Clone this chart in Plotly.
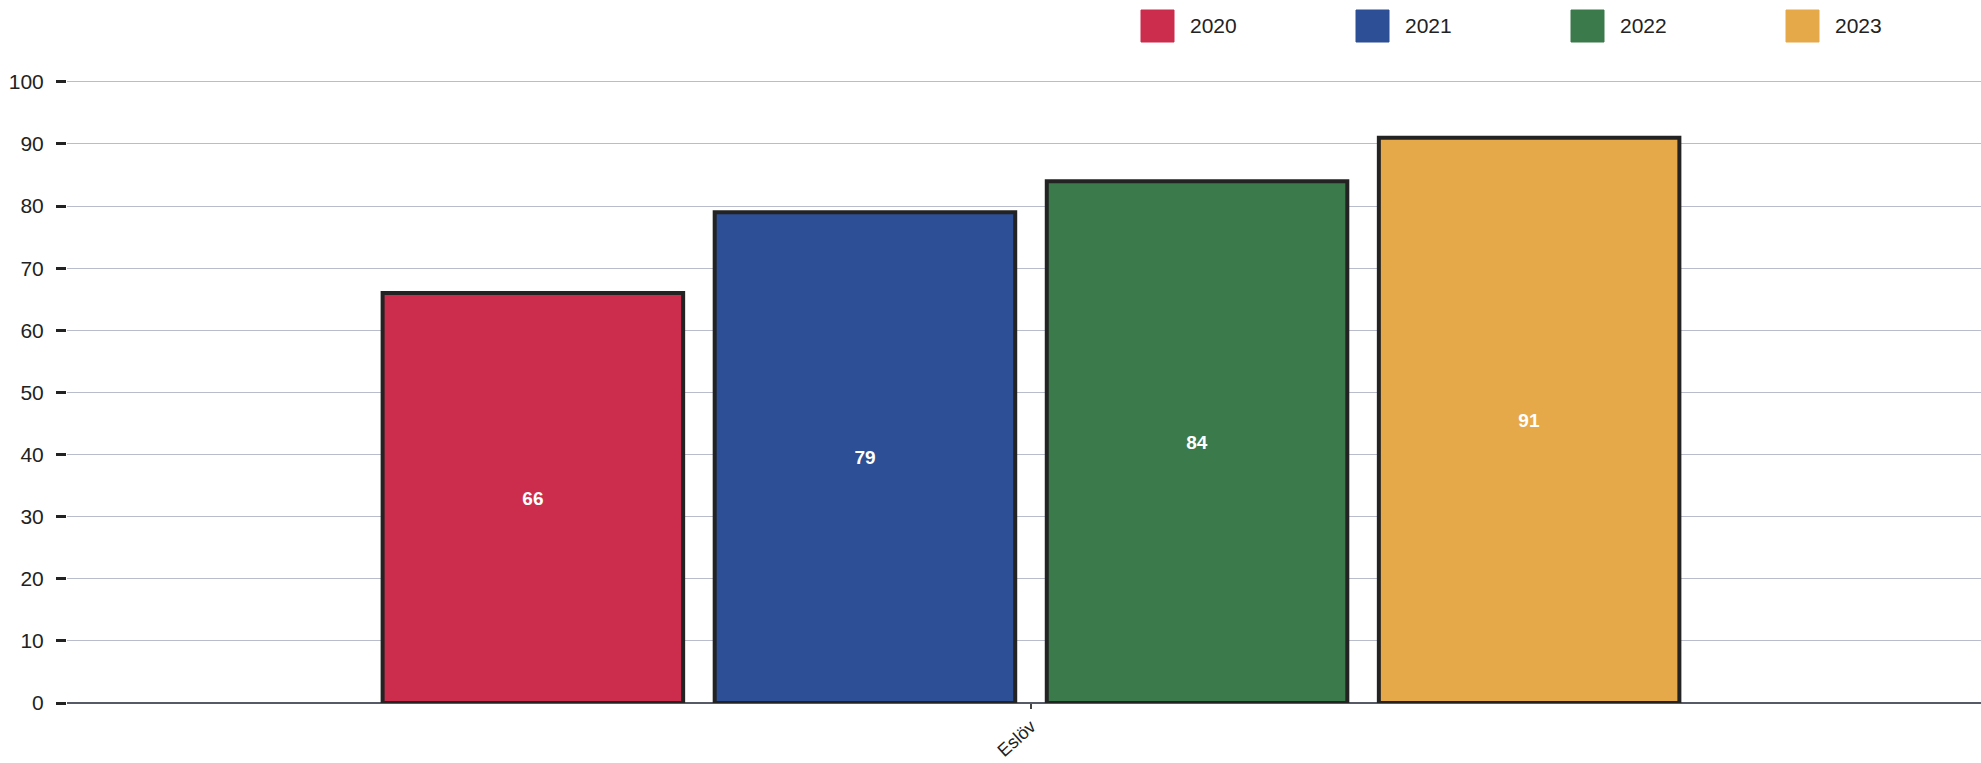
import plotly.graph_objects as go

categories = ["Eslöv"]
years = ["2020", "2021", "2022", "2023"]
values = [66, 79, 84, 91]
colors = ["#cc2d4d", "#2c4f95", "#3b7a4b", "#e6a94a"]
y_ticks = [0, 10, 20, 30, 40, 50, 60, 70, 80, 90, 100]

W, H = 1981, 763
L, R, T, B = 67, 0, 80, 60
pw, ph = W - L - R, H - T - B

fig = go.Figure()
for yr, v, c in zip(years, values, colors):
    fig.add_trace(go.Bar(
        x=categories, y=[v], name=yr,
        marker=dict(color=c, line=dict(color="#232323", width=4)),
        text=[str(v)], textposition="inside", insidetextanchor="middle",
        textfont=dict(color="white", size=19, family="Liberation Sans, Arial", weight="bold"),
        showlegend=False,
    ))

# custom legend (large swatches)
leg_x0 = 1141
leg_step = 215
sw = 33
px = lambda X: (X - L) / pw
py = lambda Y: (H - B - Y) / ph
shapes, annots = [], []
for i, (yr, c) in enumerate(zip(years, colors)):
    x0 = leg_x0 + i * leg_step
    shapes.append(dict(type="rect", xref="paper", yref="paper",
                       x0=px(x0), x1=px(x0 + sw), y0=py(42), y1=py(10),
                       fillcolor=c, line=dict(color=c, width=1)))
    annots.append(dict(xref="paper", yref="paper", x=px(x0 + sw + 14), y=py(26),
                       text=yr, showarrow=False, xanchor="left", yanchor="middle",
                       font=dict(size=21, color="#222", family="Liberation Sans, Arial")))

center = (1031 - L) / pw
fig.update_layout(
    width=W, height=H,
    margin=dict(l=L, r=R, t=T, b=B),
    paper_bgcolor="white", plot_bgcolor="white",
    barmode="group", bargap=0.306, bargroupgap=0.095,
    shapes=shapes, annotations=annots,
    font=dict(family="Liberation Sans, Arial", color="#222"),
    xaxis=dict(range=[-center, 1 - center], ticks="outside", ticklen=5, tickcolor="#444",
               tickwidth=2, tickangle=-42, tickfont=dict(size=18, color="#222"),
               showgrid=False, showline=False, zeroline=False, automargin=False),
    yaxis=dict(range=[0, 100.3], tickvals=y_ticks, ticks="outside", ticklen=10,
               tickcolor="#222", tickwidth=3, ticklabelstandoff=8,
               tickfont=dict(size=21, color="#222"),
               showgrid=True, gridcolor="#b9bdcb", gridwidth=1,
               zeroline=True, zerolinecolor="#555a66", zerolinewidth=2,
               showline=False, automargin=False),
)

fig.write_html("out.html", config={"displayModeBar": False},
               post_script="document.body.style.margin='0';document.body.style.overflow='hidden';")
